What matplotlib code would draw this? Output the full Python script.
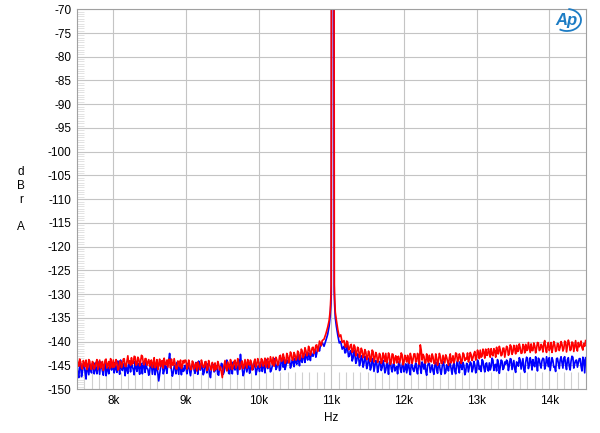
import matplotlib.pyplot as plt
import numpy as np
from matplotlib.patches import Arc

plt.rcParams['font.family'] = ['Liberation Sans', 'DejaVu Sans']
plt.rcParams['axes.unicode_minus'] = False

# noise floor below the tone, bins every 25 Hz from 7.5k to 10.875k
blue_lo = [
    -145.2, -147.6, -144.6, -146.3, -145.0, -147.9, -145.8, -144.9, -146.6, -145.3,
    -144.5, -146.8, -145.6, -144.3, -146.2, -145.1, -147.2, -145.4, -144.6, -146.0,
    -145.7, -144.4, -146.5, -145.2, -143.9, -146.1, -145.5, -144.8, -146.7, -145.0,
    -144.6, -145.9, -144.2, -146.3, -145.4, -144.5, -146.8, -145.1, -144.3, -145.8,
    -146.4, -144.9, -145.6, -147.0, -145.2, -148.3, -145.5, -144.7, -146.2, -145.3,
    -144.8, -142.5, -145.9, -146.6, -145.0, -144.4, -146.9, -145.6, -144.9, -146.1,
    -145.4, -144.6, -146.3, -145.8, -144.5, -146.7, -145.2, -144.1, -146.0, -145.5,
    -146.5, -145.1, -144.7, -146.9, -145.6, -144.9, -146.2, -145.3, -147.1, -145.7,
    -144.8, -146.4, -145.5, -144.6, -146.8, -145.2, -144.3, -146.0, -145.6, -143.9,
    -142.7, -145.8, -146.5, -144.9, -145.4, -146.7, -144.6, -145.9, -144.2, -146.1,
    -145.0, -144.4, -146.3, -145.2, -143.8, -145.7, -144.6, -146.0, -144.9, -143.6,
    -145.5, -144.3, -145.8, -144.0, -143.4, -145.2, -144.5, -143.7, -145.0, -144.2,
    -143.5, -144.8, -143.9, -142.8, -144.4, -143.3, -142.6, -143.9, -142.9, -142.2,
    -143.1, -141.8, -142.5, -141.4, -140.9, -140.2,
]
# the bins half way between those
blue_lo_mid = [
    -146.9, -145.0, -147.4, -144.8, -146.6, -144.7, -147.0, -145.9, -144.6, -146.8,
    -145.9, -144.2, -146.9, -145.3, -147.1, -144.4, -145.9, -146.8, -145.2, -144.5,
    -146.6, -145.8, -144.1, -146.9, -145.6, -144.7, -147.2, -145.9, -144.3, -146.4,
    -145.3, -147.0, -145.5, -144.6, -146.9, -145.1, -144.4, -146.5, -145.7, -147.1,
    -144.6, -146.9, -144.3, -145.8, -146.6, -146.9, -144.2, -146.8, -145.0, -146.7,
    -143.9, -144.6, -147.3, -145.2, -146.8, -145.7, -144.5, -147.0, -146.3, -145.0,
    -146.8, -145.3, -147.2, -144.9, -146.1, -144.4, -146.9, -145.8, -144.6, -147.0,
    -144.3, -146.6, -145.5, -147.6, -144.7, -146.4, -145.1, -146.9, -145.4, -144.6,
    -146.9, -145.0, -143.9, -146.7, -145.3, -146.8, -145.5, -144.4, -146.9, -145.2,
    -144.6, -147.2, -145.0, -146.4, -144.3, -146.2, -145.6, -144.8, -147.0, -145.4,
    -146.3, -145.1, -144.4, -146.6, -145.0, -144.3, -146.4, -145.2, -143.9, -145.9,
    -144.6, -146.1, -143.6, -145.4, -145.9, -144.0, -143.5, -145.6, -143.9, -145.3,
    -144.3, -142.9, -145.1, -144.0, -142.5, -144.4, -143.2, -142.4, -144.0, -143.0,
    -142.1, -143.3, -141.2, -142.0, -140.6,
]
red_lo = [
    -143.6, -145.2, -144.3, -145.8, -144.6, -143.9, -145.4, -144.1, -145.9, -144.5,
    -145.3, -143.8, -144.9, -145.6, -144.2, -145.1, -143.7, -144.8, -145.7, -144.4,
    -143.9, -145.0, -144.5, -145.8, -144.2, -144.9, -143.6, -145.3, -143.0, -144.1,
    -143.4, -144.6, -143.2, -144.8, -143.7, -144.3, -143.1, -144.9, -143.6, -144.4,
    -145.2, -143.9, -144.6, -145.5, -143.8, -144.7, -145.3, -144.0, -143.5, -144.9,
    -145.4, -144.2, -143.7, -145.0, -144.6, -145.8, -144.3, -143.9, -145.1, -144.5,
    -144.0, -145.3, -144.7, -145.9, -144.4, -145.1, -146.2, -144.8, -145.5, -144.6,
    -145.4, -144.2, -145.8, -144.9, -146.0, -145.2, -144.5, -145.7, -144.8, -145.3,
    -147.6, -144.9, -145.5, -144.3, -145.8, -144.6, -145.2, -143.9, -145.0, -144.4,
    -145.6, -144.1, -145.3, -144.7, -143.8, -145.0, -144.4, -145.5, -143.7, -144.9,
    -144.3, -145.2, -143.9, -144.6, -145.4, -143.5, -144.8, -144.1, -143.3, -144.5,
    -143.8, -144.6, -142.9, -144.0, -143.4, -144.3, -143.0, -143.7, -142.6, -143.9,
    -142.8, -143.5, -142.3, -143.2, -142.0, -142.9, -141.9, -142.6, -141.5, -142.2,
    -141.2, -141.9, -140.7, -141.3, -140.4, -139.8,
]
red_lo_mid = [
    -144.8, -143.7, -145.6, -144.0, -145.3, -145.9, -143.8, -145.6, -144.2, -145.8,
    -144.4, -145.9, -143.9, -144.8, -146.1, -143.9, -145.6, -144.2, -143.6, -145.5,
    -145.4, -143.8, -146.0, -144.1, -145.5, -143.7, -145.2, -144.1, -144.6, -145.0,
    -144.7, -143.1, -145.0, -143.3, -145.1, -142.9, -144.5, -143.6, -145.0, -143.8,
    -144.1, -145.5, -143.4, -144.9, -145.9, -143.7, -144.2, -145.6, -144.8, -143.9,
    -143.7, -145.6, -144.9, -143.6, -145.7, -144.1, -145.3, -145.7, -144.0, -143.9,
    -145.8, -143.9, -145.9, -144.1, -145.8, -144.5, -144.3, -145.9, -143.9, -145.4,
    -144.3, -146.1, -144.0, -145.5, -144.4, -146.2, -145.9, -144.2, -146.0, -146.4,
    -145.9, -144.0, -146.2, -145.1, -143.8, -145.9, -144.2, -145.6, -143.6, -145.9,
    -144.3, -145.7, -143.8, -145.6, -144.6, -143.9, -146.0, -144.2, -145.4, -143.6,
    -145.4, -143.6, -145.2, -143.5, -144.2, -145.5, -143.2, -144.9, -145.2, -143.3,
    -145.0, -143.1, -144.2, -142.6, -144.6, -142.5, -144.5, -142.2, -143.9, -142.3,
    -143.9, -142.0, -143.8, -141.6, -143.4, -141.3, -143.0, -141.0, -142.9, -141.3,
    -142.5, -140.8, -142.1, -139.9, -140.9,
]

# the 11 kHz tone and its skirt (top is far above the -70 limit)
red_pk_f = [10900, 10925, 10950, 10970, 10985, 10993, 10998, 11003, 11020,
            11037, 11042, 11047, 11055, 11070, 11090, 11110, 11130, 11150]
red_pk = [-139.5, -138.4, -137.0, -135.6, -133.5, -131.0, -128.0, -40.0, 0.0,
          -40.0, -128.0, -131.0, -133.8, -135.5, -137.5, -139.0, -138.6, -140.2]
blue_pk_f = [10900, 10925, 10950, 10970, 10985, 10995, 11000, 11006, 11020,
             11034, 11040, 11045, 11055, 11070, 11090, 11110, 11130, 11150]
blue_pk = [-141.0, -139.8, -138.5, -136.8, -134.6, -132.0, -129.5, -40.0, 0.0,
           -40.0, -129.5, -132.0, -135.0, -136.8, -138.7, -140.3, -140.0, -141.6]

# noise floor above the tone, bins every 25 Hz from 11.175k to 14.5k
red_hi = [
    -139.8, -141.2, -140.1, -141.6, -140.6, -142.0, -141.1, -142.4, -141.5, -142.7,
    -141.9, -143.0, -142.2, -143.4, -142.6, -143.6, -142.1, -143.5, -142.8, -143.8,
    -142.9, -144.1, -143.2, -142.5, -143.9, -143.0, -144.3, -142.7, -143.6, -144.5,
    -143.1, -143.9, -142.8, -144.4, -143.5, -142.9, -144.6, -143.3, -143.8, -142.6,
    -144.2, -143.4, -140.7, -143.9, -143.1, -144.5, -143.6, -142.9, -144.3, -143.2,
    -144.7, -143.5, -144.0, -143.1, -144.6, -143.7, -142.8, -144.2, -143.4, -144.5,
    -143.0, -143.9, -142.6, -143.8, -143.2, -144.1, -142.7, -143.5, -142.4, -143.6,
    -142.8, -143.4, -142.1, -143.3, -142.5, -141.8, -143.1, -142.3, -141.6, -142.9,
    -142.2, -141.5, -143.0, -142.0, -141.2, -142.6, -141.7, -142.8, -141.4, -142.1,
    -141.3, -142.5, -141.0, -142.2, -141.6, -140.8, -142.0, -141.3, -142.4, -141.1,
    -140.6, -141.8, -141.2, -140.5, -141.9, -140.9, -141.5, -140.3, -141.7, -141.0,
    -140.4, -141.6, -140.8, -141.9, -140.2, -141.3, -140.7, -141.8, -140.5, -141.2,
    -140.6, -141.5, -140.1, -141.0, -140.4, -141.7, -140.3, -140.9, -141.4, -140.2,
    -140.8, -141.3, -140.4, -139.8,
]
red_hi_mid = [
    -141.0, -139.9, -141.7, -140.8, -142.3, -140.7, -143.0, -141.2, -143.3, -141.4,
    -143.4, -141.7, -143.8, -142.0, -144.2, -141.8, -144.3, -142.3, -144.4, -142.5,
    -144.6, -142.4, -144.2, -144.5, -142.4, -144.8, -142.6, -144.6, -143.0, -143.3,
    -144.5, -142.4, -144.9, -142.9, -144.3, -143.9, -142.5, -144.6, -142.6, -144.3,
    -142.5, -144.8, -141.8, -142.7, -144.5, -142.6, -144.4, -144.0, -142.6, -144.6,
    -142.6, -145.0, -142.5, -144.6, -142.9, -144.5, -143.3, -145.0, -142.6, -143.9,
    -144.5, -142.4, -144.2, -142.6, -144.6, -142.4, -144.0, -143.7, -144.3, -142.3,
    -144.0, -142.6, -143.9, -141.8, -143.6, -143.3, -141.6, -143.5, -142.9, -141.5,
    -143.3, -142.7, -141.5, -143.3, -142.5, -141.0, -143.0, -141.4, -143.3, -141.0,
    -142.9, -140.7, -142.7, -140.8, -142.6, -142.1, -140.5, -142.5, -140.6, -142.4,
    -141.9, -140.2, -142.3, -141.9, -140.3, -142.4, -140.2, -141.9, -140.6, -142.2,
    -139.8, -142.3, -140.2, -141.4, -142.3, -140.0, -142.1, -140.4, -141.9, -140.0,
    -142.0, -139.9, -142.2, -139.7, -141.9, -140.1, -142.1, -139.8, -142.0, -141.1,
    -139.9, -141.8, -141.0,
]
blue_hi = [
    -141.0, -142.3, -141.6, -143.0, -142.2, -143.5, -142.8, -144.0, -143.1, -144.4,
    -143.5, -144.6, -143.8, -145.0, -144.2, -145.4, -143.9, -145.2, -144.5, -145.6,
    -144.3, -145.5, -144.8, -146.0, -145.1, -144.4, -145.7, -144.9, -146.2, -145.3,
    -144.6, -145.8, -145.0, -146.4, -144.7, -145.5, -146.0, -144.8, -145.9, -145.2,
    -146.1, -144.9, -145.6, -144.3, -145.8, -146.3, -145.1, -144.6, -145.7, -146.2,
    -145.0, -145.9, -144.5, -146.1, -145.4, -144.8, -146.5, -145.2, -144.6, -145.8,
    -145.1, -146.3, -144.7, -145.6, -144.2, -145.9, -145.0, -146.4, -144.8, -145.3,
    -144.6, -145.7, -144.9, -146.0, -144.4, -145.2, -143.8, -145.5, -144.7, -145.9,
    -144.5, -145.3, -143.9, -145.0, -146.2, -144.6, -145.4, -144.1, -145.6, -144.8,
    -144.2, -145.1, -143.7, -144.9, -145.8, -144.3, -145.2, -143.9, -144.7, -146.0,
    -144.4, -143.6, -145.0, -144.2, -143.8, -145.3, -144.5, -143.5, -144.9, -144.0,
    -143.7, -145.1, -144.3, -143.4, -144.8, -144.0, -145.4, -143.6, -144.6, -143.9,
    -144.4, -143.5, -144.9, -143.8, -145.2, -144.1, -143.3, -144.7, -143.9, -144.5,
    -143.6, -146.2, -143.9, -143.4,
]
blue_hi_mid = [
    -142.4, -140.6, -143.2, -141.9, -144.1, -141.8, -144.6, -142.6, -145.1, -143.0,
    -145.4, -143.1, -145.7, -143.5, -146.0, -143.6, -146.3, -144.0, -146.5, -144.2,
    -146.1, -144.0, -146.6, -144.5, -146.9, -143.9, -146.4, -144.4, -145.5, -146.8,
    -144.2, -146.5, -144.1, -145.8, -146.6, -144.3, -147.0, -144.9, -146.3, -144.5,
    -146.8, -144.2, -146.7, -145.0, -144.4, -147.1, -144.6, -146.5, -144.9, -146.9,
    -144.3, -146.7, -144.8, -146.9, -144.2, -146.8, -144.9, -146.2, -144.7, -146.9,
    -144.5, -146.8, -144.1, -146.6, -145.2, -144.4, -147.0, -144.6, -146.4, -144.3,
    -146.4, -144.2, -146.6, -143.9, -145.9, -146.3, -144.1, -146.4, -144.5, -146.2,
    -146.0, -143.5, -146.1, -144.8, -143.8, -146.7, -143.9, -145.9, -144.3, -143.9,
    -146.1, -143.6, -145.9, -144.0, -146.5, -144.5, -143.4, -145.8, -143.6, -146.5,
    -143.3, -145.7, -143.4, -146.0, -144.9, -143.2, -146.2, -143.8, -145.6, -143.5,
    -145.8, -143.2, -145.3, -146.1, -143.4, -145.4, -146.3, -143.5, -145.7, -143.2,
    -145.6, -143.2, -145.9, -143.4, -146.0, -143.1, -145.6, -144.0, -145.4, -143.6,
    -145.2, -143.3, -146.6,
]


def interleave(main, mid):
    out = np.empty(len(main) + len(mid))
    out[0::2] = main
    out[1::2] = mid
    return out


f_lo = np.arange(7500, 10876, 12.5)
f_hi = np.arange(11175, 14501, 12.5)
blue_f = np.concatenate([f_lo, blue_pk_f, f_hi])
red_f = np.concatenate([f_lo, red_pk_f, f_hi])
blue = np.concatenate([interleave(blue_lo, blue_lo_mid), blue_pk, interleave(blue_hi, blue_hi_mid)])
red = np.concatenate([interleave(red_lo, red_lo_mid), red_pk, interleave(red_hi, red_hi_mid)])

fig = plt.figure(figsize=(6, 4.33), dpi=100)
ax = fig.add_axes([0.1283, 0.1016, 0.8477, 0.877])

ax.plot(blue_f, blue, color='#0000ff', lw=1.2)
ax.plot(red_f, red, color='#ff0000', lw=1.2)

ax.set_xlim(7500, 14500)
ax.set_ylim(-150, -70)
ax.set_xticks(np.arange(8000, 14001, 1000))
ax.set_xticklabels(['8k', '9k', '10k', '11k', '12k', '13k', '14k'])
ax.set_yticks(np.arange(-150, -69, 5))
ax.set_xticks(np.arange(7600, 14500, 100), minor=True)
ax.set_yticks(np.arange(-150, -70, 0.5), minor=True)

ax.grid(True, which='major', color='#c4c4c4', lw=0.8)
ax.set_axisbelow(True)
ax.tick_params(which='major', length=0, labelsize=8.5, pad=4)
ax.tick_params(axis='x', which='minor', direction='in', length=12, color='#d0d0d0', width=0.8)
ax.tick_params(axis='y', which='minor', direction='in', length=5, color='#d8d8d8', width=0.5)
ax.tick_params(which='minor', top=False, right=False)
for s in ax.spines.values():
    s.set_color('#a0a0a0')
    s.set_linewidth(0.8)

ax.set_xlabel('Hz', fontsize=8.5, labelpad=4)
for ch, yy in zip(['d', 'B', 'r', 'A'], [172, 186, 200, 227]):
    fig.text(21 / 600, 1 - yy / 433, ch, fontsize=8.5, ha='center', va='center')

# Ap logo
fig.text(566 / 600, 1 - 21 / 433, 'Ap', fontsize=12, color='#1c7cc4',
         style='italic', fontweight='bold', ha='center', va='center')
fig.add_artist(Arc((567 / 600, 1 - 20 / 433), 28 / 600, 22 / 433, theta1=-120, theta2=85,
                   transform=fig.transFigure, color='#1c7cc4', lw=1.3))

fig.savefig('out.png', dpi=100)
